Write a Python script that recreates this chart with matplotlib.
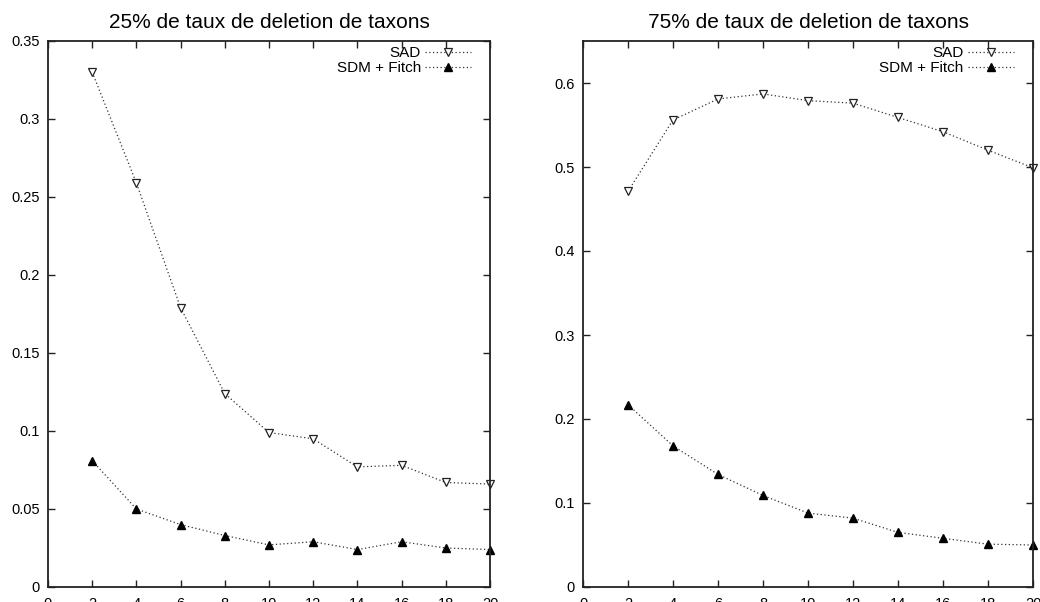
import matplotlib
matplotlib.use("Agg")
import matplotlib.pyplot as plt

x = [2, 4, 6, 8, 10, 12, 14, 16, 18, 20]

sad_25 = [0.330, 0.259, 0.179, 0.124, 0.099, 0.095, 0.077, 0.078, 0.067, 0.066]
sdm_25 = [0.081, 0.050, 0.040, 0.033, 0.027, 0.029, 0.024, 0.029, 0.025, 0.024]

sad_75 = [0.471, 0.556, 0.581, 0.587, 0.579, 0.576, 0.559, 0.542, 0.520, 0.499]
sdm_75 = [0.217, 0.168, 0.134, 0.109, 0.088, 0.082, 0.065, 0.058, 0.051, 0.050]

titles = ["25% de taux de deletion de taxons", "75% de taux de deletion de taxons"]
xticks = list(range(0, 21, 2))
yticks_25 = [0, 0.05, 0.1, 0.15, 0.2, 0.25, 0.3, 0.35]
ytick_labels_25 = ["0", "0.05", "0.1", "0.15", "0.2", "0.25", "0.3", "0.35"]
yticks_75 = [0, 0.1, 0.2, 0.3, 0.4, 0.5, 0.6]
ytick_labels_75 = ["0", "0.1", "0.2", "0.3", "0.4", "0.5", "0.6"]

plt.rcParams['font.family'] = ['Liberation Sans', 'DejaVu Sans']

fig = plt.figure(figsize=(10.4, 6.02), dpi=100)
ax1 = fig.add_axes([48/1040, 15/602, 442/1040, 546/602])
ax2 = fig.add_axes([583/1040, 15/602, 450/1040, 546/602])

def draw(ax, sad, sdm, title, yticks, ylabels, ymax):
    ax.plot(x, sad, linestyle=(0, (1, 2)), color='#333333', linewidth=0.9,
            marker='v', markersize=6, markerfacecolor='white',
            markeredgecolor='#222222', markeredgewidth=0.9, label='SAD', clip_on=False)
    ax.plot(x, sdm, linestyle=(0, (1, 2)), color='#333333', linewidth=0.9,
            marker='^', markersize=5.5, markerfacecolor='black',
            markeredgecolor='black', label='SDM + Fitch', clip_on=False)
    ax.set_xlim(0, 20)
    ax.set_ylim(0, ymax)
    ax.set_xticks(xticks)
    ax.set_xticklabels([str(t) for t in xticks])
    ax.set_yticks(yticks)
    ax.set_yticklabels(ylabels)
    ax.tick_params(direction='in', top=True, right=True, length=5, width=1,
                   labelsize=10.5, color='#222222')
    ax.tick_params(axis='x', pad=7)
    ax.tick_params(axis='y', pad=6)
    for s in ax.spines.values():
        s.set_linewidth(1.3)
        s.set_color('#222222')
    ax.set_title(title, fontsize=15, pad=9)
    ax.legend(loc='upper right', bbox_to_anchor=(0.961, 0.993), frameon=False,
              markerfirst=False, fontsize=11,
              handlelength=3.0, handletextpad=0.3, labelspacing=0.05,
              borderpad=0.1, borderaxespad=0.0)

draw(ax1, sad_25, sdm_25, titles[0], yticks_25, ytick_labels_25, 0.35)
draw(ax2, sad_75, sdm_75, titles[1], yticks_75, ytick_labels_75, 0.65)

fig.savefig("out.png", dpi=100)
